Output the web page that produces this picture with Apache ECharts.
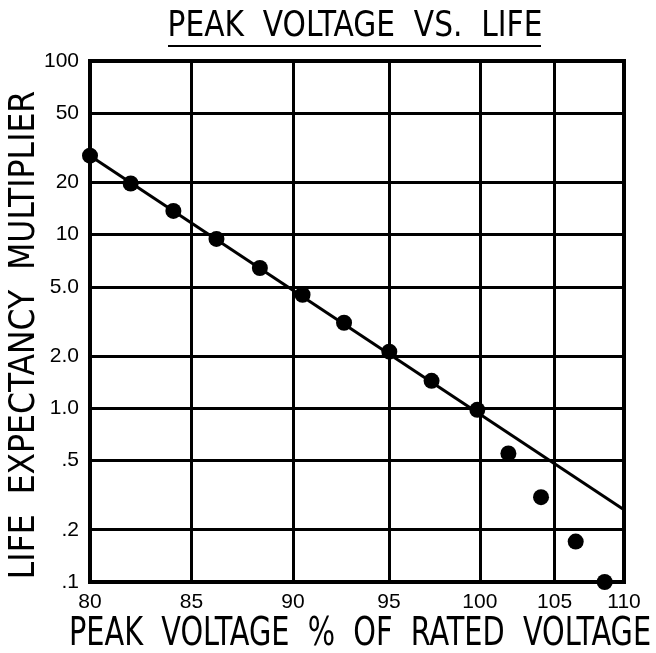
<!DOCTYPE html>
<html>
<head>
<meta charset="utf-8">
<script src="https://cdn.jsdelivr.net/npm/echarts@6/dist/echarts.min.js"></script>
<style>
  html, body { margin: 0; padding: 0; background: #fff; }
  #main { width: 656px; height: 653px; }
</style>
</head>
<body>
<div id="main"></div>
<script>
// tick labels
const xTicks = [80, 85, 90, 95, 100, 105, 110];
const yTicks = [0.1, 0.2, 0.5, 1, 2, 5, 10, 20, 50, 100];
const yTickLabels = ['.1', '.2', '.5', '1.0', '2.0', '5.0', '10', '20', '50', '100'];

// measured points (peak voltage %, life multiplier)
const voltage = [80, 82, 84.1, 86.2, 88.3, 90.4, 92.6, 95, 97.4, 100, 102, 104.1, 106.5, 108.6];
const lifeMultiplier = [28.5, 19.7, 13.7, 9.45, 6.43, 4.51, 3.11, 2.12, 1.44, 0.98, 0.55, 0.308, 0.171, 0.1];

// fitted line end points
const fitVoltage = [80, 110];
const fitLife = [28.5, 0.261];

// the printed x scale is not linear: where each x tick sits along the axis (0..1)
const xTickStops = [0, 0.1904, 0.3839, 0.5605, 0.7253, 0.8708, 1];

function toAxisX(v) {
    for (let i = 0; i < xTicks.length - 1; i++) {
        if (v <= xTicks[i + 1] || i === xTicks.length - 2) {
            const t = (v - xTicks[i]) / (xTicks[i + 1] - xTicks[i]);
            return xTickStops[i] + t * (xTickStops[i + 1] - xTickStops[i]);
        }
    }
}

const FONT = "'Liberation Sans Narrow', 'DejaVu Sans Condensed', 'Liberation Sans', sans-serif";
const TICK_FONT = "'Liberation Sans', Arial, sans-serif";

const chart = echarts.init(document.getElementById('main'), null, { renderer: 'canvas' });

const gridLines = [
    ...xTicks.map(v => ({
        xAxis: toAxisX(v),
        label: { formatter: String(v), distance: 10 }
    })),
    ...yTicks.map((v, i) => ({
        yAxis: v,
        label: { formatter: yTickLabels[i], distance: 11 }
    }))
];

const option = {
    animation: false,
    backgroundColor: '#fff',
    graphic: [
        {
            type: 'text',
            x: 355, y: 27,
            scaleY: 1.05,
            style: {
                text: 'PEAK  VOLTAGE  VS.  LIFE',
                font: '33px ' + FONT,
                fill: '#000',
                align: 'center',
                verticalAlign: 'middle'
            }
        },
        {
            type: 'line',
            shape: { x1: 168, y1: 46, x2: 541, y2: 46 },
            style: { stroke: '#000', lineWidth: 2 }
        },
        {
            type: 'text',
            x: 360, y: 635,
            scaleY: 1.2,
            style: {
                text: 'PEAK  VOLTAGE  %  OF  RATED  VOLTAGE',
                font: '32px ' + FONT,
                fill: '#000',
                align: 'center',
                verticalAlign: 'middle'
            }
        },
        {
            type: 'text',
            x: 25, y: 335,
            rotation: Math.PI / 2,
            style: {
                text: 'LIFE  EXPECTANCY  MULTIPLIER',
                font: '35px ' + FONT,
                fill: '#000',
                align: 'center',
                verticalAlign: 'middle'
            }
        }
    ],
    grid: {
        left: 90, top: 61, width: 534, height: 521,
        outerBoundsMode: 'none',
        containLabel: false,
        show: true,
        borderColor: '#000',
        borderWidth: 4,
        backgroundColor: 'transparent'
    },
    xAxis: {
        type: 'value',
        min: 0,
        max: 1,
        axisLine: { show: false },
        axisTick: { show: false },
        axisLabel: { show: false },
        splitLine: { show: false }
    },
    yAxis: {
        type: 'log',
        logBase: 10,
        min: 0.1,
        max: 100,
        axisLine: { show: false },
        axisTick: { show: false },
        axisLabel: { show: false },
        splitLine: { show: false }
    },
    series: [
        {
            name: 'fit',
            type: 'line',
            data: fitVoltage.map((v, i) => [toAxisX(v), fitLife[i]]),
            symbol: 'none',
            lineStyle: { color: '#000', width: 3 },
            silent: true,
            markLine: {
                silent: true,
                symbol: 'none',
                animation: false,
                lineStyle: { color: '#000', width: 3, type: 'solid' },
                label: {
                    position: 'start',
                    color: '#000',
                    fontFamily: TICK_FONT,
                    fontSize: 21
                },
                emphasis: { disabled: true },
                data: gridLines
            }
        },
        {
            name: 'measured',
            type: 'scatter',
            clip: false,
            data: voltage.map((v, i) => [toAxisX(v), lifeMultiplier[i]]),
            symbol: 'circle',
            symbolSize: 16,
            itemStyle: { color: '#000', opacity: 1 },
            z: 5
        }
    ]
};

chart.setOption(option);
</script>
</body>
</html>
